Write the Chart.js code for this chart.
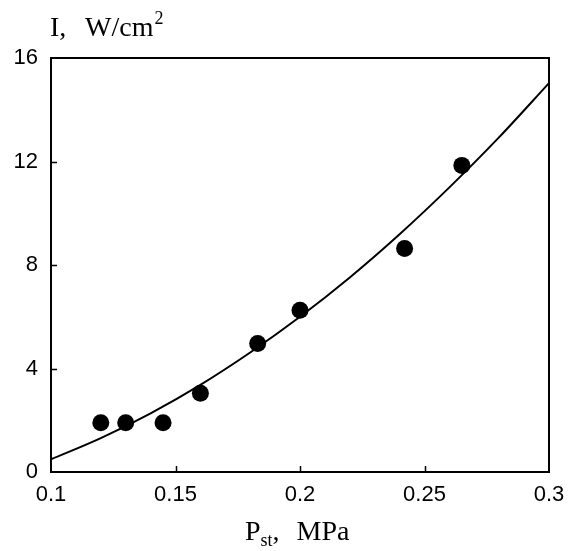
<!DOCTYPE html>
<html>
<head>
<meta charset="utf-8">
<title>I vs P_st</title>
<script src="https://cdn.jsdelivr.net/npm/chart.js@4"></script>
<style>
  html, body { margin: 0; padding: 0; background: #fff; }
  #chart { display: block; }
</style>
</head>
<body>
<canvas id="chart" width="569" height="551"></canvas>
<script>
// measured points
const pressure = [0.12, 0.13, 0.145, 0.16, 0.183, 0.2, 0.242, 0.265];
const intensity = [1.9, 1.9, 1.9, 3.04, 4.97, 6.25, 8.64, 11.85];

// fitted curve
const fitPressure = [0.10, 0.12, 0.14, 0.16, 0.18, 0.20, 0.22, 0.24, 0.26, 0.28, 0.30];
const fitIntensity = [0.49, 1.31, 2.27, 3.37, 4.62, 6.0, 7.52, 9.19, 11.0, 12.94, 15.03];

// tick labels
const xTicks = [0.1, 0.15, 0.2, 0.25, 0.3];
const yTicks = [0, 4, 8, 12, 16];

const sansFont = '"Liberation Sans", Arial, sans-serif';
const serifFont = '"Liberation Serif", "Times New Roman", serif';

/**
 * Frame, inward ticks and the two axis titles (with sub/superscripts)
 */
const framePlugin = {
    id: 'frame',
    afterDraw: function(chart) {
        const ctx = chart.ctx;
        const area = chart.chartArea;
        const xs = chart.scales.x;
        const ys = chart.scales.y;
        ctx.save();
        ctx.strokeStyle = '#000';
        ctx.lineWidth = 2;
        ctx.strokeRect(area.left, area.top, area.right - area.left, area.bottom - area.top);

        // inward ticks
        ctx.lineWidth = 1.5;
        ctx.beginPath();
        xTicks.slice(1, -1).forEach(function(v) {
            const px = Math.round(xs.getPixelForValue(v)) + 0.5;
            ctx.moveTo(px, area.bottom);
            ctx.lineTo(px, area.bottom - 6);
        });
        yTicks.slice(1, -1).forEach(function(v) {
            const py = Math.round(ys.getPixelForValue(v)) + 0.5;
            ctx.moveTo(area.left, py);
            ctx.lineTo(area.left + 6, py);
        });
        ctx.stroke();

        // y title: I,  W/cm^2
        ctx.fillStyle = '#000';
        ctx.textBaseline = 'alphabetic';
        ctx.textAlign = 'left';
        ctx.font = '28px ' + serifFont;
        ctx.fillText('I,', 50, 36);
        ctx.fillText('W/cm', 85, 36);
        let w = ctx.measureText('W/cm').width;
        ctx.font = '18px ' + serifFont;
        ctx.fillText('2', 85 + w + 1, 24);

        // x title: P_st,  MPa
        ctx.font = '28px ' + serifFont;
        let x0 = 245;
        ctx.fillText('P', x0, 540);
        x0 += ctx.measureText('P').width;
        ctx.font = '18px ' + serifFont;
        ctx.fillText('st', x0, 546);
        x0 += ctx.measureText('st').width;
        ctx.font = '28px ' + serifFont;
        ctx.fillText(',', x0, 540);
        ctx.fillText('MPa', x0 + 24, 540);
        ctx.restore();
    }
};

new Chart(document.getElementById('chart'), {
    type: 'scatter',
    data: {
        datasets: [
            {
                label: 'fit',
                data: fitPressure.map(function(p, i) { return { x: p, y: fitIntensity[i] }; }),
                showLine: true,
                borderColor: '#000',
                borderWidth: 2,
                pointRadius: 0,
                cubicInterpolationMode: 'monotone',
                fill: false,
            },
            {
                label: 'measured',
                data: pressure.map(function(p, i) { return { x: p, y: intensity[i] }; }),
                showLine: false,
                pointRadius: 8.5,
                pointBackgroundColor: '#000',
                pointBorderColor: '#000',
                pointBorderWidth: 0,
            }
        ]
    },
    options: {
        responsive: false,
        animation: false,
        layout: { padding: { top: 58, right: 20, left: 0, bottom: 0 } },
        plugins: {
            legend: { display: false },
            tooltip: { enabled: false },
        },
        scales: {
            x: {
                type: 'linear',
                min: 0.1,
                max: 0.3,
                afterBuildTicks: function(scale) {
                    scale.ticks = xTicks.map(function(v) { return { value: v }; });
                },
                afterFit: function(scale) {
                    scale.height = 79;
                    scale.paddingLeft = 0;
                    scale.paddingRight = 0;
                },
                grid: { display: false, drawTicks: false },
                border: { display: false },
                ticks: {
                    padding: 10,
                    color: '#000',
                    maxRotation: 0,
                    font: { family: sansFont, size: 22 },
                    callback: function(v) { return String(Number(v.toFixed(2))); }
                }
            },
            y: {
                type: 'linear',
                min: 0,
                max: 16,
                afterBuildTicks: function(scale) {
                    scale.ticks = yTicks.map(function(v) { return { value: v }; });
                },
                afterFit: function(scale) { scale.width = 51; },
                grid: { display: false, drawTicks: false },
                border: { display: false },
                ticks: {
                    padding: 13,
                    color: '#000',
                    font: { family: sansFont, size: 22 },
                }
            }
        }
    },
    plugins: [framePlugin]
});
</script>
</body>
</html>
